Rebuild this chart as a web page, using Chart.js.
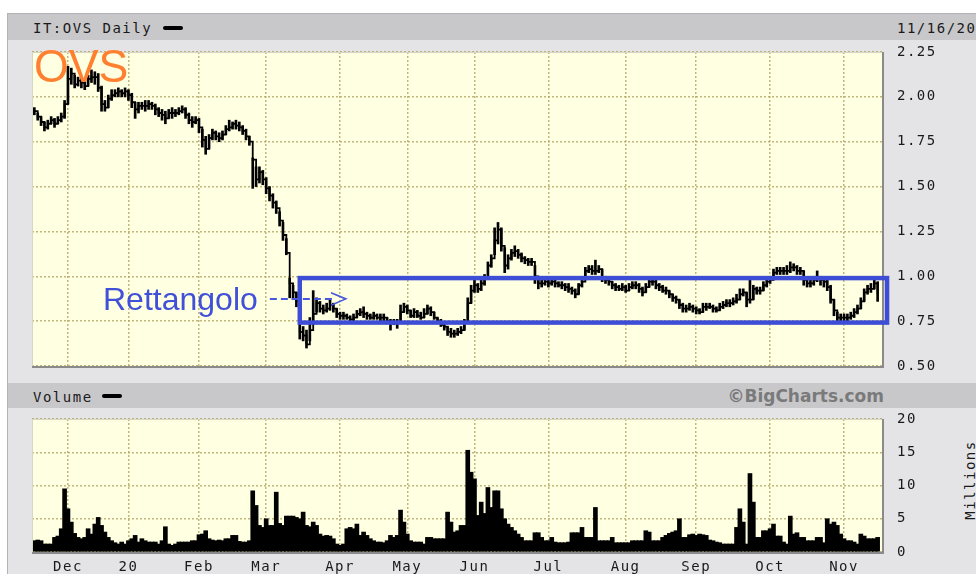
<!DOCTYPE html>
<html>
<head>
<meta charset="utf-8">
<script src="https://cdn.jsdelivr.net/npm/chart.js@4.4.1/dist/chart.umd.min.js"></script>
<style>
body{margin:0;width:976px;height:574px;overflow:hidden;background:#fff;position:relative;font-family:'DejaVu Sans Mono',monospace}
.abs{position:absolute}
#frame{left:7px;top:13px;width:969px;height:561px;background:#e4e4e7;border-left:1px solid #b4b4b8;border-top:1px solid #b4b4b8;box-sizing:border-box}
.band{left:8px;width:968px;background:#c8c8cb}
.mono{font-size:14px;letter-spacing:1.5px;color:#1a1a1a;line-height:16px;white-space:nowrap}
.dash{height:4px;width:20px;background:#000;border-radius:2px}
canvas{position:absolute;left:0}
</style>
</head>
<body>
<div id="frame" class="abs"></div>
<div class="abs band" style="top:14px;height:26px"></div>
<div class="abs band" style="top:383px;height:25px"></div>
<div class="abs mono" style="left:33px;top:20px">IT:OVS Daily</div>
<div class="abs dash" style="left:163px;top:26px"></div>
<div class="abs mono" style="left:897px;top:20px">11/16/2020</div>
<div class="abs mono" style="left:33px;top:389px">Volume</div>
<div class="abs dash" style="left:102px;top:394px"></div>
<div class="abs" style="right:92px;top:386px;font:bold 17px/20px 'DejaVu Sans',sans-serif;color:#7a7a7a;white-space:nowrap">©BigCharts.com</div>
<div class="abs mono" style="left:930px;top:472px;width:80px;text-align:center;transform:rotate(-90deg)">Millions</div>

<canvas id="price" width="976" height="380" style="top:0"></canvas>
<canvas id="vol" width="976" height="194" style="top:380px"></canvas>

<div class="abs" style="left:34px;top:42px;font:47px/47px 'Liberation Sans',Arial,sans-serif;color:#ff8030;transform:scaleX(0.95);transform-origin:left top">OVS</div>
<div class="abs" style="left:103px;top:283px;font:32px/32px 'Liberation Sans',Arial,sans-serif;color:#4050d8;white-space:nowrap">Rettangolo</div>

<script>
// month starts (trading day index) and their labels
const monthIdx = [10, 28, 49, 69, 91, 111, 131, 153, 176, 197, 219, 241];
const monthLbl = ['Dec', '20', 'Feb', 'Mar', 'Apr', 'May', 'Jun', 'Jul', 'Aug', 'Sep', 'Oct', 'Nov'];

const closes = [
  1.92,1.89,1.86,1.83,1.85,1.87,1.85,1.87,1.89,1.96,
  2.10,2.13,2.07,2.09,2.08,2.06,2.10,2.11,2.11,2.05,
  1.96,1.94,1.99,2.01,2.02,2.03,2.02,2.03,2.01,1.97,
  1.93,1.95,1.95,1.95,1.96,1.95,1.93,1.91,1.90,1.88,
  1.91,1.91,1.91,1.92,1.93,1.90,1.87,1.86,1.87,1.83,
  1.76,1.71,1.77,1.80,1.78,1.77,1.79,1.82,1.83,1.85,
  1.84,1.83,1.81,1.78,1.75,1.65,1.54,1.58,1.54,1.49,
  1.45,1.41,1.38,1.31,1.23,1.13,0.96,0.91,0.86,0.69,
  0.67,0.62,0.70,0.79,0.85,0.82,0.81,0.82,0.84,0.82,
  0.79,0.78,0.78,0.77,0.76,0.77,0.79,0.80,0.79,0.78,
  0.77,0.78,0.77,0.77,0.77,0.75,0.74,0.74,0.74,0.80,
  0.83,0.81,0.78,0.80,0.78,0.77,0.79,0.82,0.80,0.77,
  0.75,0.73,0.72,0.69,0.68,0.68,0.69,0.70,0.74,0.85,
  0.92,0.95,0.93,0.96,0.99,1.06,1.10,1.20,1.26,1.17,
  1.06,1.10,1.13,1.14,1.12,1.10,1.09,1.08,1.08,1.00,
  0.96,0.96,0.97,0.96,0.97,0.96,0.95,0.95,0.94,0.93,
  0.92,0.90,0.95,0.97,1.03,1.04,1.03,1.03,1.04,0.99,
  0.98,0.97,0.95,0.94,0.93,0.94,0.92,0.94,0.95,0.95,
  0.93,0.91,0.94,0.97,0.97,0.95,0.94,0.92,0.92,0.90,
  0.88,0.87,0.84,0.82,0.82,0.83,0.82,0.81,0.80,0.83,
  0.83,0.83,0.82,0.81,0.83,0.84,0.85,0.85,0.86,0.87,
  0.90,0.91,0.87,0.87,0.93,0.92,0.92,0.95,0.97,0.98,
  1.02,1.03,1.03,1.03,1.03,1.05,1.05,1.03,1.03,0.98,
  0.96,0.96,0.98,0.99,0.98,0.97,0.94,0.87,0.81,0.77,
  0.77,0.77,0.77,0.78,0.80,0.82,0.86,0.91,0.93,0.93,
  0.96,0.90
];

const lows = [
  1.90,1.87,1.84,1.81,1.82,1.85,1.83,1.85,1.86,1.88,
  1.96,2.07,2.05,2.06,2.05,2.04,2.06,2.08,2.07,2.03,
  1.92,1.92,1.94,1.98,2.00,2.00,2.00,2.00,1.98,1.94,
  1.88,1.91,1.93,1.92,1.93,1.93,1.90,1.89,1.87,1.85,
  1.88,1.88,1.89,1.90,1.91,1.88,1.85,1.83,1.85,1.80,
  1.72,1.68,1.71,1.76,1.76,1.75,1.76,1.79,1.81,1.82,
  1.82,1.81,1.79,1.76,1.73,1.49,1.50,1.52,1.51,1.46,
  1.42,1.38,1.35,1.28,1.20,1.12,0.88,0.87,0.83,0.65,
  0.64,0.60,0.64,0.73,0.80,0.80,0.79,0.80,0.81,0.80,
  0.77,0.76,0.76,0.76,0.75,0.75,0.77,0.78,0.77,0.76,
  0.76,0.76,0.76,0.75,0.75,0.74,0.70,0.73,0.71,0.74,
  0.80,0.79,0.77,0.77,0.77,0.76,0.77,0.79,0.78,0.76,
  0.74,0.72,0.70,0.67,0.66,0.66,0.67,0.68,0.70,0.74,
  0.85,0.91,0.91,0.92,0.95,0.99,1.05,1.12,1.18,1.14,
  1.02,1.04,1.09,1.11,1.10,1.08,1.07,1.06,1.06,0.96,
  0.93,0.94,0.95,0.94,0.95,0.94,0.94,0.93,0.92,0.91,
  0.90,0.88,0.90,0.94,0.98,1.02,1.01,1.01,1.02,0.97,
  0.96,0.95,0.93,0.92,0.92,0.92,0.91,0.92,0.93,0.93,
  0.91,0.89,0.91,0.94,0.95,0.93,0.92,0.91,0.90,0.88,
  0.86,0.85,0.82,0.80,0.80,0.81,0.80,0.79,0.79,0.80,
  0.81,0.82,0.80,0.80,0.81,0.82,0.83,0.83,0.84,0.85,
  0.87,0.89,0.83,0.85,0.87,0.90,0.90,0.92,0.94,0.96,
  0.98,1.01,1.01,1.01,1.01,1.02,1.03,1.01,1.01,0.95,
  0.94,0.94,0.95,0.97,0.95,0.94,0.92,0.85,0.78,0.75,
  0.75,0.75,0.75,0.76,0.77,0.79,0.82,0.86,0.90,0.91,
  0.93,0.86
];

const highs = [
  1.94,1.91,1.89,1.86,1.87,1.89,1.88,1.89,1.91,1.98,
  2.17,2.16,2.12,2.11,2.11,2.09,2.12,2.15,2.14,2.13,
  2.06,1.98,2.01,2.04,2.04,2.05,2.04,2.05,2.04,2.02,
  1.97,1.97,1.97,1.98,1.98,1.97,1.96,1.94,1.93,1.92,
  1.93,1.94,1.93,1.94,1.95,1.94,1.91,1.89,1.89,1.88,
  1.82,1.78,1.79,1.82,1.81,1.80,1.81,1.84,1.87,1.86,
  1.87,1.86,1.84,1.82,1.78,1.66,1.61,1.61,1.59,1.55,
  1.50,1.46,1.42,1.36,1.30,1.21,0.99,0.95,0.91,0.73,
  0.72,0.70,0.77,0.92,0.88,0.86,0.84,0.85,0.87,0.85,
  0.82,0.80,0.80,0.79,0.78,0.79,0.81,0.82,0.83,0.80,
  0.79,0.80,0.79,0.79,0.79,0.77,0.76,0.76,0.76,0.84,
  0.85,0.84,0.81,0.82,0.81,0.80,0.82,0.84,0.83,0.80,
  0.77,0.76,0.74,0.72,0.71,0.70,0.71,0.72,0.76,0.88,
  0.95,0.98,0.96,0.98,1.01,1.08,1.12,1.27,1.30,1.27,
  1.16,1.12,1.15,1.17,1.15,1.13,1.11,1.10,1.10,1.06,
  0.99,0.98,0.99,0.98,0.99,0.98,0.97,0.97,0.96,0.96,
  0.94,0.93,0.96,1.00,1.05,1.06,1.06,1.09,1.06,1.04,
  1.00,0.99,0.97,0.96,0.95,0.96,0.95,0.96,0.97,0.97,
  0.96,0.94,0.96,0.99,0.99,0.98,0.96,0.95,0.94,0.92,
  0.90,0.89,0.87,0.85,0.84,0.85,0.84,0.83,0.82,0.85,
  0.85,0.85,0.84,0.83,0.85,0.86,0.87,0.87,0.88,0.90,
  0.93,0.93,0.91,0.98,0.95,0.94,0.94,0.97,0.99,1.00,
  1.04,1.05,1.05,1.05,1.06,1.08,1.07,1.06,1.05,1.03,
  0.98,0.98,1.00,1.03,1.00,0.99,0.98,0.95,0.87,0.80,
  0.79,0.79,0.79,0.80,0.82,0.84,0.88,0.93,0.95,0.96,
  0.98,0.97
];

// volume, millions
const volumes = [
  1.7,1.8,1.7,1.2,1.2,1.2,2.2,2.4,3.5,9.5,
  6.5,4.5,2.8,2.2,2.0,2.2,3.5,2.7,4.2,5.2,
  4.0,3.0,2.2,1.7,1.4,1.2,1.5,1.2,1.7,2.0,
  2.5,1.5,2.0,1.7,1.5,1.5,1.5,1.2,1.7,3.8,
  1.2,1.0,1.2,1.5,1.5,1.5,1.5,1.7,1.7,2.6,
  2.7,3.2,2.0,1.8,1.7,1.8,1.7,2.0,2.0,2.5,
  2.5,1.6,1.5,1.5,1.7,9.2,7.0,4.0,3.7,5.0,
  4.0,4.0,9.0,4.3,4.0,5.4,5.4,5.4,5.2,5.0,
  6.0,4.0,3.8,4.5,4.0,2.7,2.4,2.5,2.4,2.0,
  1.2,1.0,1.2,3.5,3.7,3.5,4.2,2.5,3.0,2.5,
  2.0,1.7,1.5,1.5,1.4,1.7,2.5,2.2,2.5,6.3,
  4.5,2.7,1.7,1.5,1.5,1.5,1.2,2.2,2.2,2.0,
  2.0,2.0,2.0,6.0,4.5,3.0,3.2,4.0,4.0,15.3,
  12.0,11.0,5.5,7.5,5.8,9.7,6.7,9.2,9.2,6.5,
  5.0,4.2,3.7,3.2,2.7,2.2,1.7,1.7,1.7,2.9,
  2.9,2.2,1.7,1.7,2.2,1.5,1.4,1.4,1.4,1.5,
  2.9,2.9,2.9,3.7,2.2,2.2,2.2,6.7,1.7,1.7,
  1.7,1.7,2.2,1.4,1.4,1.4,1.4,1.4,1.7,1.7,
  1.7,1.7,3.2,3.0,1.7,1.7,1.7,2.2,2.5,2.8,
  3.0,3.2,5.0,2.2,2.2,2.6,2.7,2.5,2.7,2.6,
  2.5,1.8,1.7,1.5,1.4,1.2,1.2,1.2,1.2,3.7,
  6.5,4.5,1.2,11.8,7.5,2.2,2.2,3.2,3.2,3.5,
  4.2,2.4,2.4,1.5,1.2,5.4,2.7,2.9,2.2,2.2,
  1.7,1.7,1.7,2.2,2.2,1.4,5.0,4.2,4.5,4.0,
  2.7,2.0,1.7,1.7,1.5,1.2,2.7,2.4,2.0,2.0,
  2.0,2.2
];

const gridCol = 'rgba(178,164,100,0.8)';
const tickFont = {family: 'DejaVu Sans Mono', size: 14};
const tickCol = '#1a1a1a';

const plotBg = {
  id: 'plotBg',
  beforeUpdate(chart) { chart.ctx.letterSpacing = '1.5px'; },
  beforeDraw(chart) {
    const {ctx, chartArea: a} = chart;
    ctx.letterSpacing = '1.5px';
    ctx.save();
    ctx.fillStyle = '#ffffe1';
    ctx.fillRect(a.left, a.top, a.width, a.height);
    ctx.restore();
  },
  afterDraw(chart) {
    const {ctx, chartArea: a} = chart;
    ctx.save();
    ctx.strokeStyle = '#d6d6c4';
    ctx.lineWidth = 1;
    ctx.beginPath();
    ctx.moveTo(a.left + 0.5, a.bottom);
    ctx.lineTo(a.left + 0.5, a.top + 0.5);
    ctx.lineTo(a.right, a.top + 0.5);
    ctx.stroke();
    ctx.strokeStyle = '#8a8a8a';
    ctx.lineWidth = 2;
    ctx.beginPath();
    ctx.moveTo(a.left, a.bottom + 1);
    ctx.lineTo(a.right + 1, a.bottom + 1);
    ctx.lineTo(a.right + 1, a.top);
    ctx.stroke();
    ctx.restore();
  }
};

// blue box and dashed arrow drawn over the price bars
const marks = {
  id: 'marks',
  afterDraw(chart) {
    const ctx = chart.ctx;
    const x = chart.scales.x, y = chart.scales.y;
    ctx.save();
    ctx.strokeStyle = '#3d4dd6';
    ctx.lineWidth = 4.5;
    const x0 = x.getPixelForValue(79), x1 = x.getPixelForValue(253.8);
    const y0 = y.getPixelForValue(0.99), y1 = y.getPixelForValue(0.742);
    ctx.strokeRect(x0, y0, x1 - x0, y1 - y0);

    ctx.strokeStyle = '#4858dc';
    ctx.lineWidth = 2;
    ctx.setLineDash([7, 4]);
    const ya = y.getPixelForValue(0.874);
    ctx.beginPath();
    ctx.moveTo(x.getPixelForValue(70.1), ya);
    ctx.lineTo(x.getPixelForValue(88.6), ya);
    ctx.stroke();
    ctx.setLineDash([]);
    ctx.lineWidth = 1.6;
    ctx.beginPath();
    ctx.moveTo(x.getPixelForValue(88.3), y.getPixelForValue(0.908));
    ctx.lineTo(x.getPixelForValue(92.7), ya);
    ctx.lineTo(x.getPixelForValue(88.3), y.getPixelForValue(0.838));
    ctx.stroke();
    ctx.restore();
  }
};

function xAxis(showLabels, h) {
  return {
    type: 'linear', min: -0.7, max: 252.3, offset: false,
    afterBuildTicks: s => { s.ticks = monthIdx.map(v => ({value: v})); },
    afterFit: s => { s.height = h; },
    ticks: {display: showLabels, autoSkip: false, maxRotation: 0, padding: 7,
      color: tickCol, font: tickFont,
      callback: (v, i) => monthLbl[i]},
    grid: {color: gridCol, lineWidth: 1.5, drawTicks: false, offset: false},
    border: {display: false, dash: [2, 2]}
  };
}

function yAxis(min, max, step, fmt) {
  return {
    position: 'right', min: min, max: max,
    afterFit: s => { s.width = 94; s.paddingTop = 0; s.paddingBottom = 0; },
    ticks: {stepSize: step, padding: 15, color: tickCol, font: tickFont, callback: fmt},
    grid: {color: gridCol, lineWidth: 1.5, drawTicks: false},
    border: {display: false, dash: [2, 2]}
  };
}

new Chart(document.getElementById('price').getContext('2d'), {
  data: {
    datasets: [{
      type: 'bar',
      data: closes.map((c, i) => ({x: i, y: [lows[i], highs[i]]})),
      backgroundColor: '#000',
      barThickness: 2,
      grouped: false
    }, {
      type: 'line',
      data: closes.map((c, i) => ({x: i, y: c})),
      borderColor: '#000',
      borderWidth: 1.8,
      stepped: true,
      pointRadius: 0
    }]
  },
  options: {
    responsive: false, animation: false, devicePixelRatio: 1,
    layout: {padding: {left: 32, top: 52, right: 0, bottom: 0}},
    plugins: {legend: {display: false}, tooltip: {enabled: false}},
    scales: {
      x: xAxis(false, 14),
      y: yAxis(0.5, 2.25, 0.25, v => v.toFixed(2))
    }
  },
  plugins: [plotBg, marks]
});

new Chart(document.getElementById('vol').getContext('2d'), {
  type: 'bar',
  data: {
    datasets: [{
      data: volumes.map((v, i) => ({x: i, y: v})),
      backgroundColor: '#000',
      barThickness: 4,
      grouped: false
    }]
  },
  options: {
    responsive: false, animation: false, devicePixelRatio: 1,
    layout: {padding: {left: 32, top: 39, right: 0, bottom: 0}},
    plugins: {legend: {display: false}, tooltip: {enabled: false}},
    scales: {
      x: xAxis(true, 22),
      y: yAxis(0, 20, 5, v => v)
    }
  },
  plugins: [plotBg]
});
</script>
</body>
</html>
